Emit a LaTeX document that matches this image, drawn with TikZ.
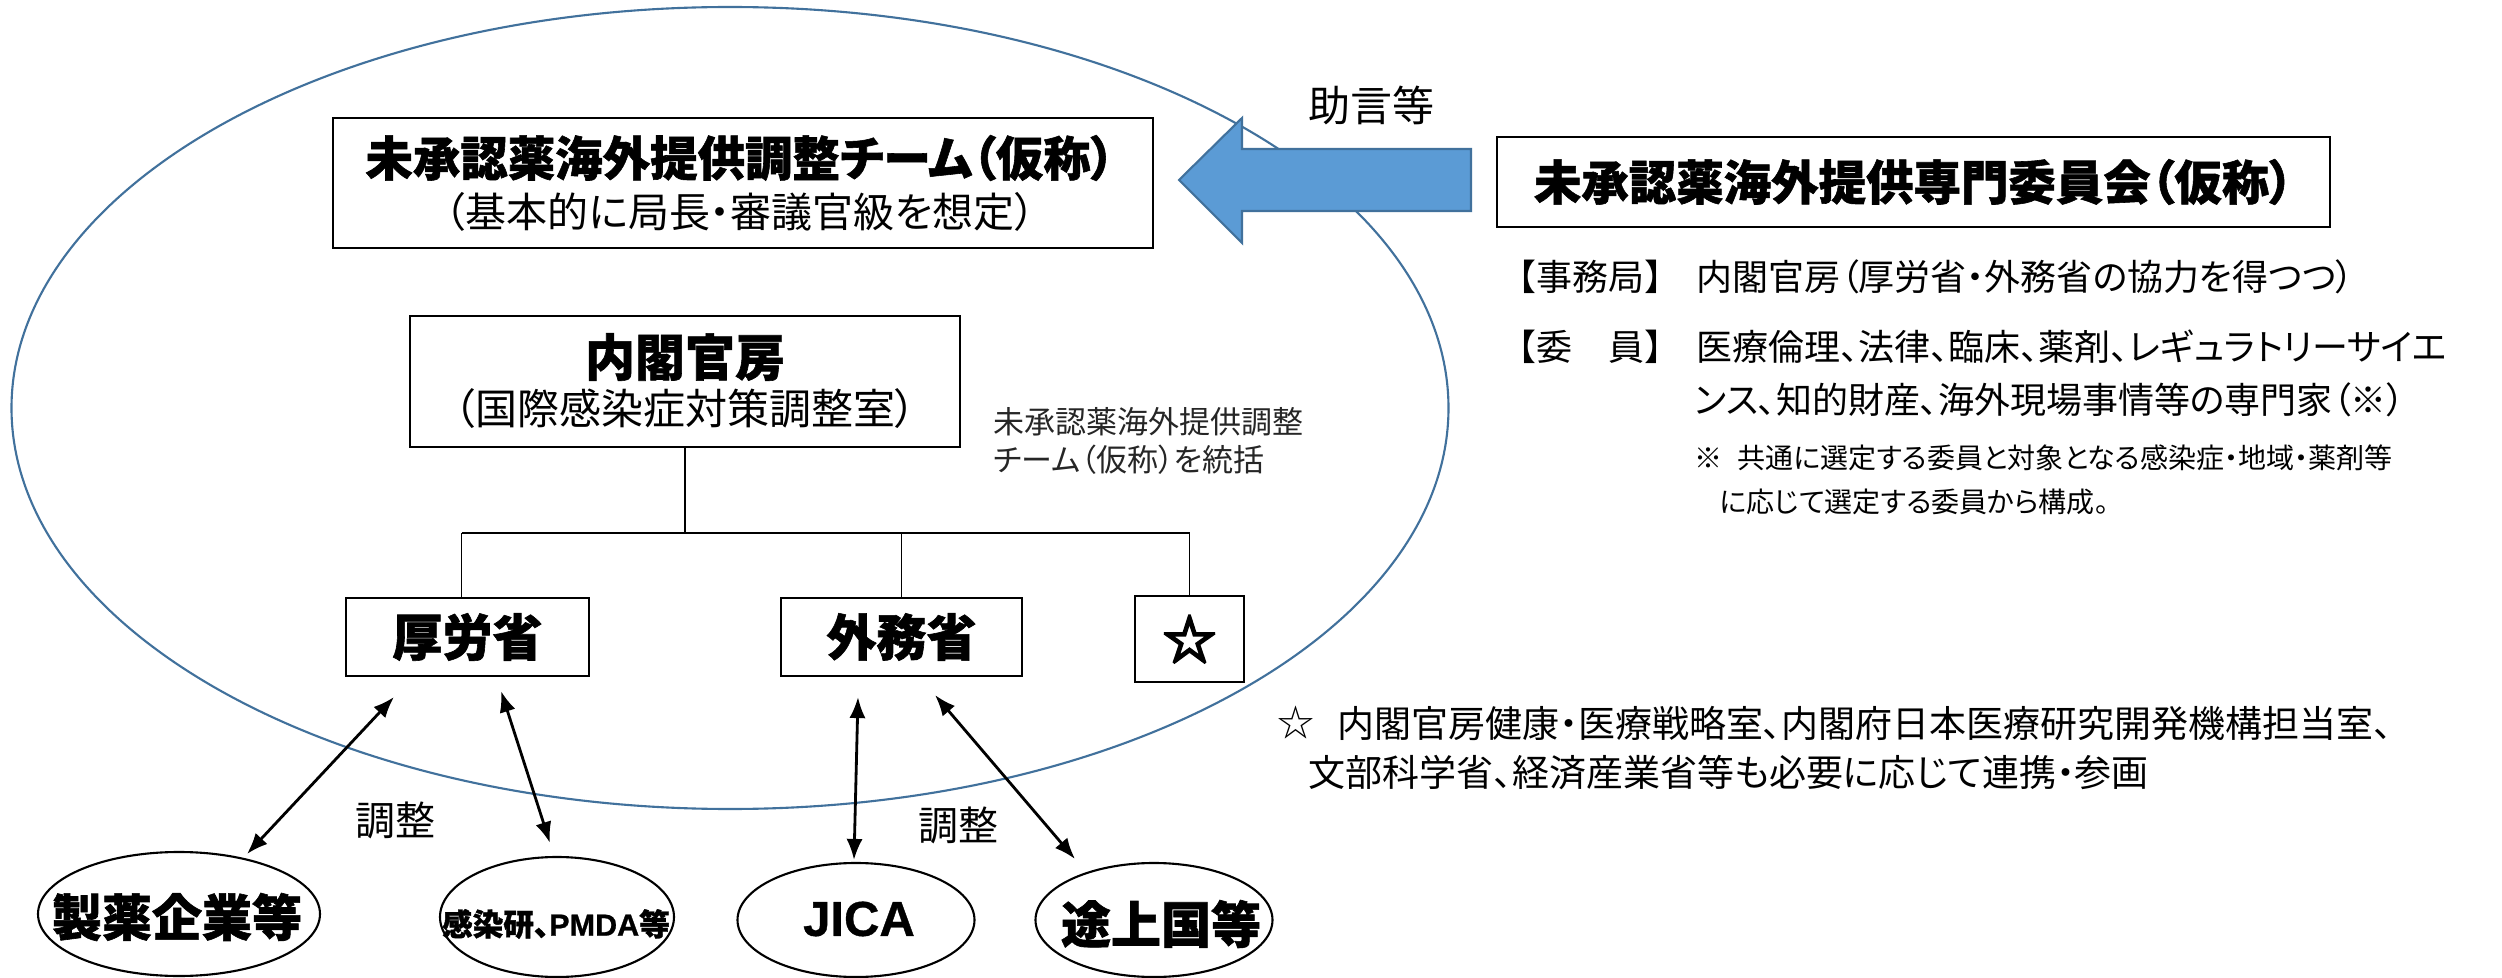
\documentclass[tikz,border=0pt]{standalone}
\usepackage{fontspec}
\setmainfont{Noto Sans CJK JP}[RawFeature=+palt, BoldFeatures={FakeBold=1.2}]
\newfontfamily\jpfull{Noto Sans CJK JP}
\newfontfamily\starfont{Noto Sans CJK JP}[FakeBold=5]
\newfontfamily\latinsans{Liberation Sans}[BoldFeatures={FakeBold=0.8}]
\usetikzlibrary{shapes.geometric,arrows.meta}
\definecolor{elblue}{HTML}{41719C}
\definecolor{arrfill}{HTML}{5B9BD5}
\newcommand\fsz[1]{\fontsize{#1}{#1}\selectfont}
\tikzset{
  box/.style={draw=black, line width=0.6pt, inner sep=0pt, fill=white},
  oval/.style={draw=black, line width=0.6pt, ellipse, inner sep=0pt},
  txt/.style={inner sep=0pt, text=black},
  link/.style={line width=0.8pt, {Latex[length=6pt,width=4.6pt]}-{Latex[length=6pt,width=4.6pt]}},
  tree/.style={line width=0.5pt},
  bar/.style={line width=0.8pt},
}
\begin{document}
\begin{tikzpicture}[x=0.1mm,y=-0.1mm]
\fill[white] (0,0) rectangle (2502,978);
\useasboundingbox (0,0) rectangle (2502,978);

% big ellipse
\draw[elblue, line width=0.6pt] (730,408) ellipse [x radius=718.5, y radius=401];

% block arrow
\draw[elblue, fill=arrfill, line width=0.6pt]
  (1179,180) -- (1242,118) -- (1242,149) -- (1471,149) -- (1471,211)
  -- (1242,211) -- (1242,243) -- cycle;
\node[txt, font=\fsz{11.95pt}] (jogen) at (1371,105) {助言等};

% team box
\node[box, minimum width=82mm, minimum height=13mm] (team) at (743,183) {};
\node[txt, font=\bfseries\fsz{13.5pt}] (teamA) at (740,158) {未承認薬海外提供調整チーム（仮称）};
\node[txt, font=\fsz{11.67pt}] (teamB) at (740,212) {（基本的に局長・審議官級を想定）};

% naikaku box
\node[box, minimum width=55mm, minimum height=13.1mm] (naikaku) at (685,381.5) {};
\node[txt, font=\bfseries\fsz{14.23pt}] (naikakuA) at (685,357) {内閣官房};
\node[txt, font=\fsz{11.95pt}] (naikakuB) at (685,409) {（国際感染症対策調整室）};

\node[txt, anchor=west, font=\fsz{8.82pt}, text=black!85] (noteA) at (993,422) {未承認薬海外提供調整};
\node[txt, anchor=west, font=\fsz{8.82pt}, text=black!85] (noteB) at (993,460) {チーム（仮称）を統括};

% ministries
\node[box, minimum width=24.3mm, minimum height=7.8mm, font=\bfseries\fsz{14.23pt}] (kourou) at (467.5,637) {厚労省};
\node[box, minimum width=24.1mm, minimum height=7.8mm, font=\bfseries\fsz{14.23pt}] (gaimu) at (901.5,637) {外務省};
\node[box, minimum width=10.9mm, minimum height=8.6mm, font=\starfont\fsz{15pt}] (star) at (1189.5,639) {☆};

% tree
\coordinate (bar) at (685,533);
\draw[tree] (naikaku.south) -- (bar);
\draw[bar] ([xshift=-0.6mm]kourou.north |- bar) -- (star.north |- bar);
\draw[tree] ([xshift=-0.6mm]kourou.north) -- ([xshift=-0.6mm]kourou.north |- bar);
\draw[tree] (gaimu.north) -- (gaimu.north |- bar);
\draw[tree] (star.north) -- (star.north |- bar);

% ovals
\node[oval, minimum width=28.2mm, minimum height=12.4mm] (seiyaku) at (179,914) {};
\node[txt, font=\bfseries\fsz{14.23pt}] (seiyakuT) at (177,917) {製薬企業等};
\node[oval, minimum width=23.4mm, minimum height=12mm] (kansen) at (557,917) {};
\node[txt, font=\bfseries\fsz{8.7pt}] (kansenT) at (556,924) {感染研、{\latinsans\bfseries PMDA}等};
\node[oval, minimum width=23.7mm, minimum height=11.4mm] (jica) at (856,920) {};
\node[txt, font=\latinsans\bfseries\fsz{13.94pt}] (jicaT) at (859,919) {JICA};
\node[oval, minimum width=23.7mm, minimum height=11.4mm] (tojou) at (1154,920) {};
\node[txt, font=\bfseries\fsz{14.23pt}] (tojouT) at (1161,924) {途上国等};

% coordination arrows
\coordinate (a1s) at (394,697); \coordinate (a1e) at (247,854);
\coordinate (a2s) at (501,691); \coordinate (a2e) at (550,843);
\coordinate (a3s) at (858,697); \coordinate (a3e) at (854,860);
\coordinate (a4s) at (935,695); \coordinate (a4e) at (1075,859);
\draw[link] (a1s) -- (a1e);
\draw[link] (a2s) -- (a2e);
\draw[link] (a3s) -- (a3e);
\draw[link] (a4s) -- (a4e);
\node[txt, font=\fsz{11.38pt}] (chousei1) at (395,820) {調整};
\node[txt, font=\fsz{11.38pt}] (chousei2) at (958,825) {調整};

% committee
\node[box, minimum width=83.3mm, minimum height=9mm, font=\bfseries\fsz{13.5pt}] (senmon) at (1913.5,182) {未承認薬海外提供専門委員会（仮称）};

\node[txt, anchor=west, font=\jpfull\fsz{10.24pt}] (jimuL) at (1500,277) {【事務局】};
\node[txt, anchor=west, font=\fsz{10.24pt}] (jimuT) at (1696,277) {内閣官房（厚労省・外務省の協力を得つつ）};
\node[txt, anchor=west, font=\jpfull\fsz{10.24pt}] (iinL) at (1500,347) {【委　員】};
\node[txt, anchor=west, font=\fsz{10.24pt}] (iinT1) at (1696,347) {医療倫理、法律、臨床、薬剤、レギュラトリーサイエ};
\node[txt, anchor=west, font=\fsz{10.24pt}] (iinT2) at (1694,400) {ンス、知的財産、海外現場事情等の専門家（※）};
\node[txt, anchor=west, font=\fsz{7.97pt}] (komeA) at (1694,458) {※\hspace{1.5mm}共通に選定する委員と対象となる感染症・地域・薬剤等};
\node[txt, anchor=west, font=\fsz{7.97pt}] (komeB) at (1719,502) {に応じて選定する委員から構成。};

% star footnote
\node[txt, anchor=west, font=\fsz{10.53pt}] (fnS) at (1277,723) {☆};
\node[txt, anchor=west, font=\fsz{10.53pt}] (fnA) at (1337,723) {内閣官房健康・医療戦略室、内閣府日本医療研究開発機構担当室、};
\node[txt, anchor=west, font=\fsz{10.53pt}] (fnB) at (1308,773) {文部科学省、経済産業省等も必要に応じて連携・参画};
\end{tikzpicture}
\end{document}
